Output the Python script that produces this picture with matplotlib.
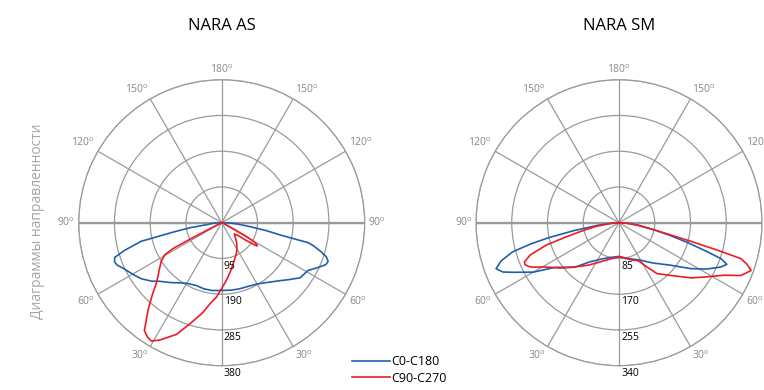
import numpy as np
import matplotlib
matplotlib.use("Agg")
import matplotlib.pyplot as plt
from matplotlib.lines import Line2D

plt.rcParams['font.family'] = ['Open Sans', 'DejaVu Sans']
plt.rcParams['mathtext.fontset'] = 'custom'
plt.rcParams['mathtext.rm'] = 'Open Sans'

# gamma angles (deg, negative = left half) and intensities
as_c0_ang = [-90, -88, -85, -82.4, -81, -79, -77, -74, -72, -70, -68, -65, -61, -58, -55, -50,
             -47, -40, -35, -30, -22, -15, -8, 0, 8, 15, 22, 30, 37, 45, 50, 55, 58, 61, 65,
             68, 70, 72, 74, 76, 77, 78, 80, 82, 85, 88, 90]
as_c0_val = [0, 12, 28, 40, 85, 132, 220, 270, 299, 303, 300, 288, 276, 268, 260, 242,
             228, 208, 195, 186, 180, 182, 182, 180, 181, 182, 183, 188, 199, 218, 235, 255, 258, 262, 282,
             298, 301, 292, 272, 250, 235, 165, 118, 76, 45, 20, 0]

as_c90_ang = [-90, -70, -64, -63, -62.5, -62, -60.6, -57.3, -53, -49.8, -47, -44, -40, -35.6,
              -33, -30.8, -27.9, -22, -17.5, -12, -8.3, -4, -1.4, 2, 6, 12, 20, 28, 36, 42, 48,
              52, 54, 56, 57, 58.5, 60, 61, 62, 64, 70, 80, 90]
as_c90_val = [0, 0, 4, 40, 100, 146, 174, 191, 208, 222, 238, 265, 305, 353,
              362, 366, 353, 320, 282, 245, 218, 198, 182, 165, 148, 125, 102, 86, 68, 55, 45,
              55, 80, 107, 113, 108, 95, 70, 40, 20, 8, 3, 0]

sm_c0_ang = [-90, -86, -83, -80, -78, -76.5, -74.7, -72, -69.5, -67, -65, -60, -55, -45, -36.6,
             -25, -15, 0, 10, 20, 29.4, 40, 50.3, 57.3, 62, 66.5, 68.9, 70.6, 72, 73.9, 76, 79,
             83, 86, 90]
sm_c0_val = [0, 15, 50, 110, 170, 215, 262, 295, 312, 300, 279, 235, 185, 150, 116,
             95, 86, 80, 85, 92, 102, 125, 158, 202, 235, 264, 275, 257, 215, 169, 125, 80,
             45, 22, 0]

sm_c90_ang = [-90, -85, -81, -77, -75, -72.9, -70, -67.5, -66, -64, -62.8, -58.7, -52, -46, -36,
              -26, -15, 0, 10, 20, 25.4, 28.3, 32.2, 36.7, 44.3, 52.4, 57.4, 63.4, 66.6, 70.1,
              72, 73.6, 74.4, 75.5, 78, 82, 86, 90]
sm_c90_val = [0, 20, 55, 96, 130, 181, 225, 243, 245, 238, 231, 203, 175, 152, 125,
              104, 90, 81, 86, 95, 99, 106, 124, 151, 175, 215, 240, 279, 316, 334,
              320, 302, 243, 175, 95, 45, 20, 0]

as_rings = [95, 190, 285, 380]
sm_rings = [85, 170, 255, 340]
titles = ['NARA AS', 'NARA SM']
labels = ['C0-C180', 'C90-C270']
blue = '#1f5fae'
red = '#ec1c24'
grid_c = '#9a9a9a'

fig = plt.figure(figsize=(7.64, 3.90), dpi=100)
W, H = 764, 390
R = 143


def polar_panel(cx, cy, rings, curves, title):
    ax = fig.add_axes([(cx - R) / W, (H - cy - R) / H, 2 * R / W, 2 * R / H], projection='polar')
    ax.set_theta_zero_location('S')
    ax.set_ylim(0, rings[-1])
    ax.set_thetagrids(np.arange(0, 360, 30), [''] * 12)
    ax.set_rgrids(rings, [''] * len(rings))
    ax.grid(color=grid_c, lw=0.9)
    ax.spines['polar'].set_color(grid_c)
    ax.spines['polar'].set_linewidth(0.9)
    ax.patch.set_alpha(0)
    # thicker horizontal axis
    ax.plot([np.pi / 2, np.pi / 2], [0, rings[-1]], color=grid_c, lw=1.6, zorder=1)
    ax.plot([-np.pi / 2, -np.pi / 2], [0, rings[-1]], color=grid_c, lw=1.6, zorder=1)
    for ang, val, col in curves:
        ax.plot(np.radians(ang), val, color=col, lw=1.2, zorder=3)
    for r in rings:
        ax.annotate(str(r), xy=(0, r), xytext=(1.5, -1.5), textcoords='offset points',
                    ha='left', va='top', fontsize=7.5, color='black')
    for t in range(30, 360, 30):
        th = np.radians(t)
        dx, dy = np.sin(th), -np.cos(th)
        ha = 'left' if dx > 0.1 else ('right' if dx < -0.1 else 'center')
        va = 'bottom' if dy > 0.1 else ('top' if dy < -0.1 else 'center')
        lab = t if t <= 180 else 360 - t
        ax.annotate(r'$\mathregular{%d^{o}}$' % lab, xy=(th, rings[-1]),
                    xytext=(dx * 2.5, dy * 2.5), textcoords='offset points',
                    ha=ha, va=va, fontsize=7.5, color='#888888', annotation_clip=False)
    fig.text(cx / W, 1 - 26 / H, title, ha='center', va='center', fontsize=12)
    return ax


polar_panel(221.7, 222.7, as_rings,
            [(as_c0_ang, as_c0_val, blue), (as_c90_ang, as_c90_val, red)], titles[0])
polar_panel(619, 222.7, sm_rings,
            [(sm_c0_ang, sm_c0_val, blue), (sm_c90_ang, sm_c90_val, red)], titles[1])

handles = [Line2D([], [], color=blue, lw=1.2), Line2D([], [], color=red, lw=1.2)]
fig.legend(handles, labels, loc='upper left', bbox_to_anchor=(352 / W, 1 - 355 / H),
           frameon=False, fontsize=9, handlelength=3.0, handletextpad=0.1,
           labelspacing=0.3, borderaxespad=0, borderpad=0)

fig.text(38 / W, 1 - 221 / H, 'Диаграммы направленности', rotation=90,
         ha='center', va='center', fontsize=10, color='#a6a6a6')

fig.savefig('out.png', dpi=100)
